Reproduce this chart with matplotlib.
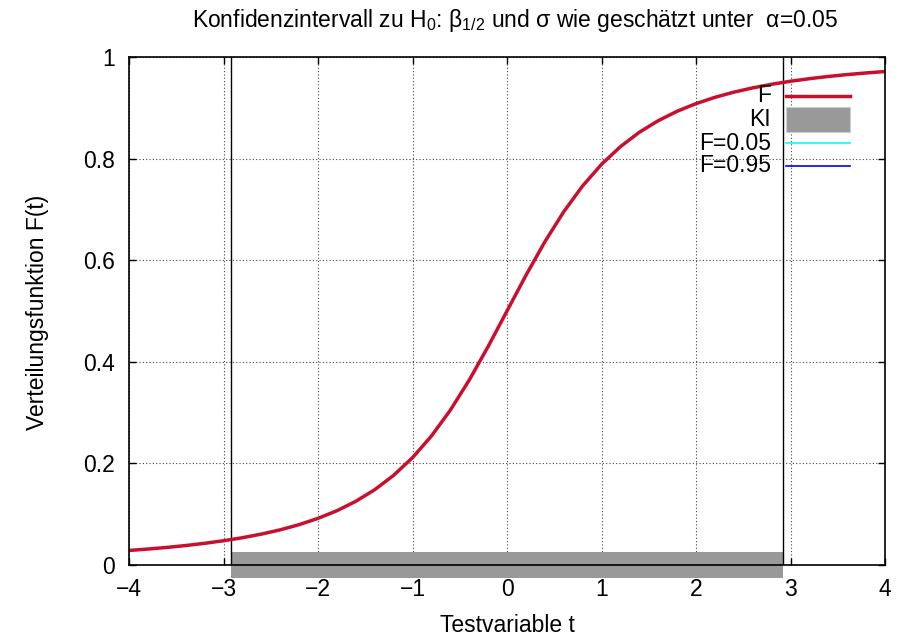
import numpy as np
import matplotlib
matplotlib.use("Agg")
import matplotlib.pyplot as plt
from matplotlib.patches import Rectangle

plt.rcParams['font.family'] = ['Liberation Sans', 'DejaVu Sans']
plt.rcParams['mathtext.fontset'] = 'custom'
plt.rcParams['mathtext.rm'] = 'Liberation Sans'
plt.rcParams['mathtext.it'] = 'Liberation Sans'

t_werte = [-4.0, -3.8, -3.6, -3.4, -3.2, -3.0, -2.8, -2.6, -2.4, -2.2, -2.0,
           -1.8, -1.6, -1.4, -1.2, -1.0, -0.8, -0.6, -0.4, -0.2, 0.0,
           0.2, 0.4, 0.6, 0.8, 1.0, 1.2, 1.4, 1.6, 1.8, 2.0,
           2.2, 2.4, 2.6, 2.8, 3.0, 3.2, 3.4, 3.6, 3.8, 4.0]
F_werte = [0.0286, 0.0314, 0.0346, 0.0383, 0.0427, 0.0477, 0.0537, 0.0608, 0.0692, 0.0794, 0.0918,
           0.1068, 0.1254, 0.1482, 0.1765, 0.2113, 0.2538, 0.3047, 0.3639, 0.4300, 0.5000,
           0.5700, 0.6361, 0.6953, 0.7462, 0.7887, 0.8235, 0.8518, 0.8746, 0.8932, 0.9082,
           0.9206, 0.9308, 0.9392, 0.9463, 0.9523, 0.9573, 0.9617, 0.9654, 0.9686, 0.9714]

# Grenzen des Konfidenzintervalls (Quantile zu F=0.05 und F=0.95)
ki_grenzen = [-2.92, 2.92]
ki_hoehe = 0.025

x_ticks = [-4, -3, -2, -1, 0, 1, 2, 3, 4]
y_ticks = [0, 0.2, 0.4, 0.6, 0.8, 1]
y_ticklabels = ['0', '0.2', '0.4', '0.6', '0.8', '1']

legende_texte = ['F', 'KI', 'F=0.05', 'F=0.95']

rot = '#c8102e'
grau = '#999999'
fs = 16.5

W, H = 900, 636
L, R, T, B = 129, 885, 57, 565

fig = plt.figure(figsize=(W/100, H/100), dpi=100)
ax = fig.add_axes([L/W, 1-B/H, (R-L)/W, (B-T)/H])

ax.set_xlim(-4, 4)
ax.set_ylim(0, 1)

ax.grid(True, linestyle=(0, (1, 2)), color='#444444', linewidth=0.8)
ax.set_axisbelow(True)

# KI als grauer Balken um die Nulllinie
ax.fill_between(ki_grenzen, -ki_hoehe, ki_hoehe, color=grau, linewidth=0,
                clip_on=False, zorder=2)
for g in ki_grenzen:
    ax.axvline(g, color='black', linewidth=1.0, zorder=3)

ax.plot(t_werte, F_werte, color=rot, linewidth=2.5, zorder=4)

ax.set_xticks(x_ticks)
ax.set_yticks(y_ticks)
ax.set_yticklabels(y_ticklabels)
ax.tick_params(direction='in', length=5, width=1, top=True, right=True,
               labelsize=fs)
ax.tick_params(axis='x', pad=9)
ax.tick_params(axis='y', pad=10)
for s in ax.spines.values():
    s.set_linewidth(1.2)
    s.set_zorder(5)

# Beschriftungen
fig.text(507/W, 1-632/H, 'Testvariable t', fontsize=fs, ha='center', va='baseline')
fig.text(38/W, 1-312/H, 'Verteilungsfunktion F(t)', fontsize=fs, rotation=90,
         ha='center', va='center')
fig.text(515/W, 1-27/H,
         r'Konfidenzintervall zu H$_0$: β$_{1/2}$ und σ wie geschätzt unter  α=0.05',
         fontsize=16.5, ha='center', va='baseline')

# Legende im gnuplot-Stil: Text rechtsbuendig, Muster rechts daneben
def fx(px):
    return (px - L) / (R - L)

def fy(py):
    return (B - py) / (B - T)

zeilen = [96, 119.5, 143, 166]
for text, py in zip(legende_texte, zeilen):
    ax.text(fx(771), fy(py), text, transform=ax.transAxes, fontsize=fs,
            ha='right', va='center', zorder=6)
ax.plot([fx(786), fx(850)], [fy(zeilen[0])] * 2, transform=ax.transAxes,
        color=rot, linewidth=2.5, zorder=6)
ax.add_patch(Rectangle((fx(786), fy(132)), fx(850) - fx(786), fy(107) - fy(132),
                       transform=ax.transAxes, facecolor=grau,
                       edgecolor='#cccccc', linewidth=0.8, zorder=6))
ax.plot([fx(786), fx(850)], [fy(zeilen[2])] * 2, transform=ax.transAxes,
        color='cyan', linewidth=1.2, zorder=6)
ax.plot([fx(786), fx(850)], [fy(zeilen[3])] * 2, transform=ax.transAxes,
        color='blue', linewidth=1.2, zorder=6)

fig.savefig('out.png', dpi=100)
